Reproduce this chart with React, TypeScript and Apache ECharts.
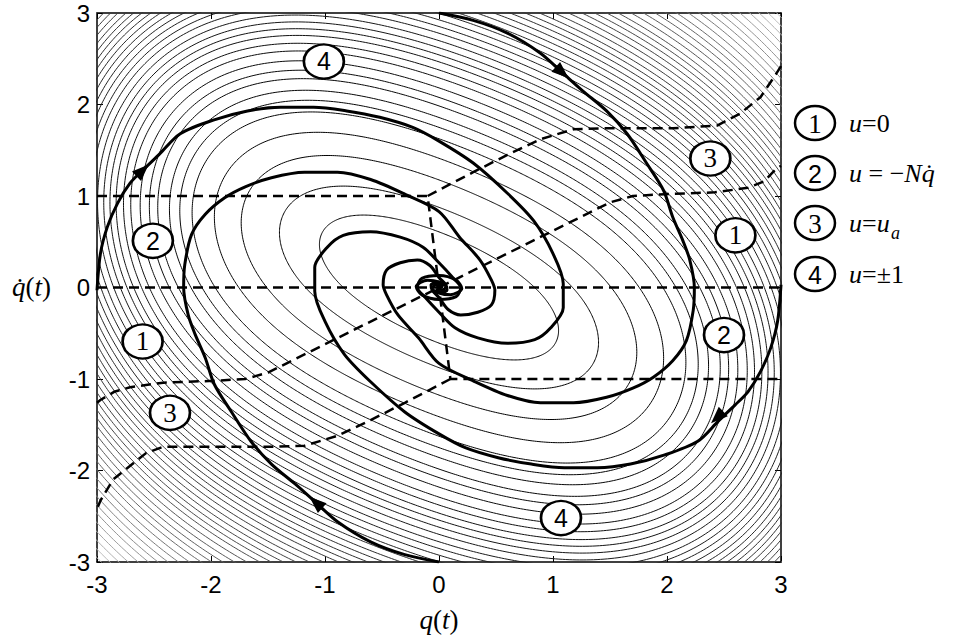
import React, { useEffect, useRef } from 'react';
import * as echarts from 'echarts';

// ---- data ----
// plotted function V(q, q̇) = A q² + 2B q q̇ + C q̇² + D q⁴ + E (q − q̇)⁴ (form read from the contour shapes)
const formA = 0.488;
const formB = 0.475;
const formC = 1.0;
const formD = 0.049;
const formE = 0.004;

const contourLevels = [
  0.37, 0.77, 1.39, 2.01, 2.67, 3.1, 3.5, 4.0, 4.39, 4.85, 5.36, 5.78, 6.23, 6.63, 7.05, 7.49, 7.96,
  8.4, 8.85, 9.3, 9.75, 10.2, 10.65, 11.1, 11.55, 12.0, 12.5, 13.0, 13.5, 14.0, 14.5, 15.0, 15.6,
  16.2, 16.8, 17.4, 18.0, 18.7, 19.4, 20.1, 20.8, 21.5, 22.3, 23.1, 23.9, 24.7, 25.5, 26.3, 27.1,
];

const trajATop = [
  [0.0, 3.0], [0.3, 2.92], [0.6, 2.78], [0.89, 2.56], [1.08, 2.35], [1.26, 2.15], [1.47, 1.93],
  [1.65, 1.68], [1.82, 1.36], [1.97, 1.06], [2.05, 0.77], [2.14, 0.51], [2.2, 0.3], [2.24, 0.0],
  [2.23, -0.25], [2.17, -0.58], [2.05, -0.8], [1.88, -0.98], [1.7, -1.1], [1.47, -1.2], [1.18, -1.26],
  [0.89, -1.26], [0.6, -1.18], [0.3, -1.02], [0.0, -0.83], [-0.18, -0.55], [-0.36, -0.3],
  [-0.46, -0.08], [-0.49, 0.03], [-0.46, 0.19], [-0.34, 0.27], [-0.19, 0.3], [-0.08, 0.24],
  [0.0, 0.11], [0.06, 0.03], [0.07, -0.03], [0.03, -0.05], [-0.02, -0.03], [0.0, 0.0],
];
const trajABottom = [
  [0.0, -3.0], [-0.3, -2.92], [-0.6, -2.78], [-0.89, -2.56], [-1.08, -2.35], [-1.26, -2.15], [-1.47, -1.93],
  [-1.65, -1.68], [-1.82, -1.36], [-1.97, -1.06], [-2.05, -0.77], [-2.14, -0.51], [-2.2, -0.3], [-2.24, 0.0],
  [-2.23, 0.25], [-2.17, 0.58], [-2.05, 0.8], [-1.88, 0.98], [-1.7, 1.1], [-1.47, 1.2], [-1.18, 1.26],
  [-0.89, 1.26], [-0.6, 1.18], [-0.3, 1.02], [0.0, 0.83], [0.18, 0.55], [0.36, 0.3],
  [0.46, 0.08], [0.49, -0.03], [0.46, -0.19], [0.34, -0.27], [0.19, -0.3], [0.08, -0.24],
  [0.0, -0.11], [-0.06, -0.03], [-0.07, 0.03], [-0.03, 0.05], [0.02, 0.03], [0.0, 0.0],
];
const trajBLeft = [
  [-3.0, -0.03], [-2.97, 0.37], [-2.91, 0.66], [-2.82, 0.92], [-2.71, 1.14], [-2.6, 1.28], [-2.45, 1.46],
  [-2.27, 1.68], [-1.98, 1.83], [-1.68, 1.93], [-1.39, 1.97], [-1.1, 1.97], [-0.81, 1.93], [-0.52, 1.86],
  [-0.23, 1.75], [0.0, 1.6], [0.3, 1.36], [0.6, 1.03], [0.83, 0.73], [1.0, 0.37], [1.09, 0.04],
  [1.09, -0.22], [0.98, -0.44], [0.84, -0.57], [0.6, -0.61], [0.34, -0.55], [0.14, -0.44], [0.0, -0.27],
  [-0.12, -0.11], [-0.19, 0.0], [-0.15, 0.1], [0.0, 0.13], [0.15, 0.08], [0.2, -0.01], [0.1, -0.08],
  [0.0, -0.06], [-0.06, -0.01], [-0.03, 0.03], [0.0, 0.0],
];
const trajBRight = [
  [3.0, 0.03], [2.97, -0.37], [2.91, -0.66], [2.82, -0.92], [2.71, -1.14], [2.6, -1.28], [2.45, -1.46],
  [2.27, -1.68], [1.98, -1.83], [1.68, -1.93], [1.39, -1.97], [1.1, -1.97], [0.81, -1.93], [0.52, -1.86],
  [0.23, -1.75], [0.0, -1.6], [-0.3, -1.36], [-0.6, -1.03], [-0.83, -0.73], [-1.0, -0.37], [-1.09, -0.04],
  [-1.09, 0.22], [-0.98, 0.44], [-0.84, 0.57], [-0.6, 0.61], [-0.34, 0.55], [-0.14, 0.44], [0.0, 0.27],
  [0.12, 0.11], [0.19, 0.0], [0.15, -0.1], [0.0, -0.13], [-0.15, -0.08], [-0.2, 0.01], [-0.1, 0.08],
  [0.0, 0.06], [0.06, 0.01], [0.03, -0.03], [0.0, 0.0],
];

// switching curves (dashed)
const switchZero = [[-3, 0], [3, 0]];
const switchStep = [[-3, 1.0], [-0.1, 1.0], [0.1, -1.0], [3, -1.0]];
const switchMid = [
  [-3.0, -1.26], [-2.97, -1.23], [-2.85, -1.14], [-2.71, -1.09], [-2.42, -1.04], [-1.98, -1.02],
  [-1.7, -1.0], [-1.5, -0.93], [1.5, 0.93], [1.7, 1.0], [1.98, 1.02], [2.42, 1.04], [2.71, 1.09],
  [2.85, 1.16], [2.96, 1.3], [3.0, 1.33],
];
const switchUpper = [
  [-0.1, 1.0], [0.3, 1.26], [0.6, 1.45], [0.89, 1.62], [1.18, 1.73], [1.47, 1.74], [2.05, 1.74],
  [2.44, 1.77], [2.64, 1.9], [2.82, 2.08], [2.96, 2.34], [3.0, 2.42],
];
const switchLower = [
  [0.1, -1.0], [-0.3, -1.26], [-0.6, -1.45], [-0.89, -1.62], [-1.18, -1.73], [-1.47, -1.74], [-2.42, -1.74],
  [-2.57, -1.81], [-2.86, -2.1], [-2.97, -2.33], [-3.0, -2.42],
];

// direction arrows: position and direction of motion
const arrowQ = [1.08, -1.08, -2.6, 2.44];
const arrowP = [2.35, -2.35, 1.28, -1.42];
const arrowDQ = [0.37, -0.37, 0.3, -0.3];
const arrowDP = [-0.41, 0.41, 0.36, -0.36];

// circled region labels inside the plot
const labelQ = [-1.01, -2.51, -2.6, -2.36, 1.07, 2.5, 2.6, 2.38];
const labelP = [2.47, 0.51, -0.59, -1.37, -2.52, -0.52, 0.57, 1.41];
const labelNum = ['4', '2', '1', '3', '4', '2', '1', '3'];

const tickValues = [-3, -2, -1, 0, 1, 2, 3];

// ---- layout ----
const GRID = { left: 97, top: 13, width: 684, height: 549 };

function contourPath(level: number): number[][] {
  const pts: number[][] = [];
  const N = 720;
  for (let i = 0; i <= N; i++) {
    const th = (2 * Math.PI * i) / N;
    const c = Math.cos(th);
    const s = Math.sin(th);
    const A = formA * c * c + 2 * formB * c * s + formC * s * s;
    const B = formD * c * c * c * c + formE * Math.pow(c - s, 4);
    const R = (2 * level) / (A + Math.sqrt(A * A + 4 * B * level));
    const r = Math.sqrt(R);
    pts.push([r * c, r * s]);
  }
  return pts;
}

function grayFor(level: number): string {
  const t = Math.min(1, level / 28);
  const g = Math.round(232 * Math.pow(t, 1.7));
  return `rgb(${g},${g},${g})`;
}

const SERIF = '"Liberation Serif", "Times New Roman", serif';
const SANS = '"Liberation Sans", Arial, sans-serif';

export default function App() {
  const ref = useRef<HTMLDivElement>(null);
  useEffect(() => {
    if (!ref.current) return;
    const chart = echarts.init(ref.current, null, { renderer: 'svg' });
    const pxPerQ = GRID.width / 6;
    const pxPerP = GRID.height / 6;

    const contourSeries = contourLevels.map((lv) => ({
      type: 'line',
      data: contourPath(lv),
      showSymbol: false,
      symbol: 'none',
      smooth: false,
      clip: true,
      silent: true,
      z: 1,
      lineStyle: { color: grayFor(lv), width: 1 },
    }));

    const trajSeries = [trajATop, trajABottom, trajBLeft, trajBRight].map((d) => ({
      type: 'line',
      data: d,
      symbol: 'none',
      smooth: 0.3,
      clip: true,
      silent: true,
      z: 4,
      lineStyle: { color: '#000', width: 3 },
    }));

    const dashSeries = [switchZero, switchStep, switchMid, switchUpper, switchLower].map((d) => ({
      type: 'line',
      data: d,
      symbol: 'none',
      smooth: false,
      clip: true,
      silent: true,
      z: 5,
      lineStyle: { color: '#000', width: 2.5, type: [10, 6] },
    }));

    const arrowSeries = {
      type: 'scatter',
      z: 6,
      silent: true,
      symbol: 'triangle',
      symbolSize: [13, 17],
      itemStyle: { color: '#000', opacity: 1 },
      data: arrowQ.map((q, i) => ({
        value: [q, arrowP[i]],
        symbolRotate:
          (Math.atan2(arrowDP[i] * pxPerP, arrowDQ[i] * pxPerQ) * 180) / Math.PI - 90,
      })),
    };

    const labelSeries = {
      type: 'scatter',
      z: 7,
      silent: true,
      symbol: 'circle',
      symbolSize: [40, 34],
      itemStyle: { color: '#ffffff', borderColor: '#000', borderWidth: 2.5, opacity: 1 },
      label: {
        show: true,
        position: 'inside',
        color: '#000',
        fontSize: 25,
        fontFamily: SANS,
        formatter: (p: any) => labelNum[p.dataIndex],
      },
      data: labelQ.map((q, i) => {
        const n = labelNum[i];
        const serif = n === '1' || n === '3';
        return {
          value: [q, labelP[i]],
          label: { fontFamily: serif ? SERIF : SANS, fontSize: serif ? 27 : 25, color: '#000' },
        };
      }),
    };

    const axisCommon: any = {
      type: 'value',
      min: -3,
      max: 3,
      interval: 1,
      splitLine: { show: false },
      axisLine: { show: true, onZero: false, lineStyle: { color: '#000', width: 1.5 } },
      axisTick: { show: true, inside: true, length: 6, lineStyle: { color: '#000', width: 1 } },
    };
    const labelStyle = {
      show: true,
      color: '#000',
      fontSize: 24,
      fontWeight: 'normal',
      fontFamily: SANS,
      formatter: (v: number) => (tickValues.indexOf(v) >= 0 ? String(v) : ''),
    };

    const legendY = [123, 173, 223, 274];
    const legendNum = ['1', '2', '3', '4'];
    const legendX = 815;
    const graphic: any[] = [];
    legendY.forEach((y, i) => {
      graphic.push({
        type: 'ellipse',
        shape: { cx: legendX, cy: y, rx: 20, ry: 17 },
        style: { fill: '#fff', stroke: '#000', lineWidth: 2.5 },
        z: 10,
      });
      const n = legendNum[i];
      graphic.push({
        type: 'text',
        x: legendX,
        y: y + 1,
        z: 11,
        style: {
          text: n,
          fontFamily: n === '1' || n === '3' ? SERIF : SANS,
          fontSize: n === '1' || n === '3' ? 27 : 25,
          fill: '#000',
          align: 'center',
          verticalAlign: 'middle',
        },
      });
    });
    const legRich = {
      i: { fontFamily: SERIF, fontStyle: 'italic', fontSize: 26, color: '#000' },
      n: { fontFamily: SERIF, fontSize: 26, color: '#000' },
    };
    const legendTexts = [
      '{i|u}{n|=0}',
      '{i|u}{n| = −}{i|Nq̇}',
      '{i|u}{n|=}{i|u}',
      '{i|u}{n|=±1}',
    ];
    legendTexts.forEach((t, i) => {
      graphic.push({
        type: 'text',
        x: 849,
        y: legendY[i],
        z: 11,
        style: { text: t, rich: legRich, verticalAlign: 'middle', align: 'left' },
      });
    });
    graphic.push({
      type: 'text',
      x: 891,
      y: legendY[2] + 10,
      z: 11,
      style: {
        text: 'a',
        fontFamily: SERIF,
        fontStyle: 'italic',
        fontSize: 18,
        fill: '#000',
        verticalAlign: 'middle',
        align: 'left',
      },
    });
    const nameRich = {
      i: { fontFamily: SERIF, fontStyle: 'italic', fontSize: 27, color: '#000' },
      n: { fontFamily: SERIF, fontSize: 27, color: '#000' },
    };
    graphic.push({
      type: 'text',
      x: 12,
      y: 287,
      z: 11,
      style: { text: '{i|q̇}{n|(}{i|t}{n|)}', rich: nameRich, verticalAlign: 'middle', align: 'left' },
    });
    graphic.push({
      type: 'text',
      x: 439,
      y: 620,
      z: 11,
      style: { text: '{i|q}{n|(}{i|t}{n|)}', rich: nameRich, verticalAlign: 'middle', align: 'center' },
    });

    const option: any = {
      animation: false,
      backgroundColor: '#fff',
      grid: { left: GRID.left, top: GRID.top, width: GRID.width, height: GRID.height, containLabel: false },
      xAxis: [
        { ...axisCommon, position: 'bottom', axisLabel: { ...labelStyle, margin: 10 } },
        { ...axisCommon, position: 'top', axisLabel: { show: false } },
      ],
      yAxis: [
        { ...axisCommon, position: 'left', axisLabel: { ...labelStyle, margin: 7 } },
        { ...axisCommon, position: 'right', axisLabel: { show: false } },
      ],
      series: [...contourSeries, ...trajSeries, ...dashSeries, arrowSeries, labelSeries],
      graphic,
    };
    chart.setOption(option);
    return () => chart.dispose();
  }, []);
  return (
    <div
      ref={ref}
      style={{ position: 'fixed', left: 0, top: 0, width: 955, height: 640, background: '#fff' }}
    />
  );
}
